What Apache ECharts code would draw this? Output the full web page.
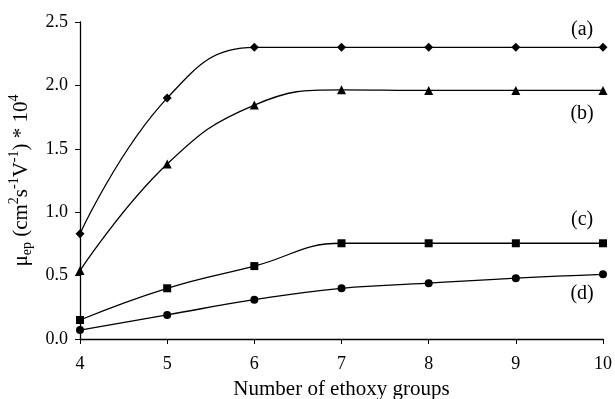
<!DOCTYPE html>
<html>
<head>
<meta charset="utf-8">
<script src="https://cdn.jsdelivr.net/npm/echarts@6/dist/echarts.min.js"></script>
<style>
html,body{margin:0;padding:0;background:#fff;}
#chart{width:615px;height:399px;}
</style>
</head>
<body>
<div id="chart"></div>
<script>
const ethoxy = [4, 5, 6, 7, 8, 9, 10];
const seriesA = [0.83, 1.90, 2.30, 2.30, 2.30, 2.30, 2.30];
const seriesB = [0.54, 1.38, 1.845, 1.965, 1.96, 1.96, 1.96];
const seriesC = [0.15, 0.40, 0.575, 0.755, 0.755, 0.755, 0.755];
const seriesD = [0.07, 0.19, 0.31, 0.40, 0.44, 0.48, 0.51];
const seriesNames = ['(a)', '(b)', '(c)', '(d)'];
const labelPos = [[9.76, 2.44], [9.76, 1.78], [9.76, 0.94], [9.76, 0.36]];

const FONT = '"Liberation Serif", "DejaVu Serif", serif';
const chart = echarts.init(document.getElementById('chart'), null, {renderer: 'canvas'});

function mk(name, vals, symbol, size, lp) {
  return {
    name: name,
    type: 'line',
    smooth: 0.45,
    data: ethoxy.map((x, i) => [x, vals[i]]),
    symbol: symbol,
    symbolSize: size,
    showAllSymbol: true,
    lineStyle: {color: '#000', width: 1.3},
    itemStyle: {color: '#000'},
    markPoint: {
      symbol: 'circle', symbolSize: 1,
      itemStyle: {color: 'rgba(0,0,0,0)'},
      label: {show: true, formatter: name, color: '#000', fontFamily: FONT, fontSize: 20, position: 'inside'},
      data: [{coord: lp}]
    },
    animation: false
  };
}

chart.setOption({
  animation: false,
  backgroundColor: '#fff',
  grid: {left: 80, right: 12, top: 22, bottom: 60, containLabel: false, outerBoundsMode: 'none'},
  xAxis: {
    type: 'value', min: 4, max: 10, interval: 1,
    name: 'Number of ethoxy groups', nameLocation: 'middle', nameGap: 40,
    nameTextStyle: {fontFamily: FONT, fontSize: 21, color: '#000'},
    axisLine: {lineStyle: {color: '#000', width: 1.3}},
    axisTick: {show: true, length: 5, lineStyle: {color: '#000'}},
    axisLabel: {fontFamily: FONT, fontSize: 18, color: '#000', margin: 16},
    splitLine: {show: false}
  },
  yAxis: {
    type: 'value', min: 0, max: 2.5, interval: 0.5,
    name: '{b|μ}{sub|ep}{b| (cm}{sup|2}{b|s}{sup|-1}{b|V}{sup|-1}{b|) * 10}{sup|4}',
    nameLocation: 'middle', nameGap: 43, nameRotate: 90,
    nameTextStyle: {
      fontFamily: FONT, fontSize: 21, color: '#000',
      rich: {
        b: {fontFamily: FONT, fontSize: 21, color: '#000', lineHeight: 27, verticalAlign: 'middle'},
        sub: {fontFamily: FONT, fontSize: 14, color: '#000', lineHeight: 27, verticalAlign: 'bottom'},
        sup: {fontFamily: FONT, fontSize: 14, color: '#000', lineHeight: 27, verticalAlign: 'top'}
      }
    },
    axisLine: {show: true, lineStyle: {color: '#000', width: 1.3}},
    axisTick: {show: true, length: 5, lineStyle: {color: '#000'}},
    axisLabel: {fontFamily: FONT, fontSize: 18, color: '#000', margin: 12, formatter: v => v.toFixed(1)},
    splitLine: {show: false}
  },
  series: [
    mk(seriesNames[0], seriesA, 'diamond', 9, labelPos[0]),
    mk(seriesNames[1], seriesB, 'triangle', 9, labelPos[1]),
    mk(seriesNames[2], seriesC, 'rect', 8, labelPos[2]),
    mk(seriesNames[3], seriesD, 'circle', 8, labelPos[3])
  ]
});
</script>
</body>
</html>
